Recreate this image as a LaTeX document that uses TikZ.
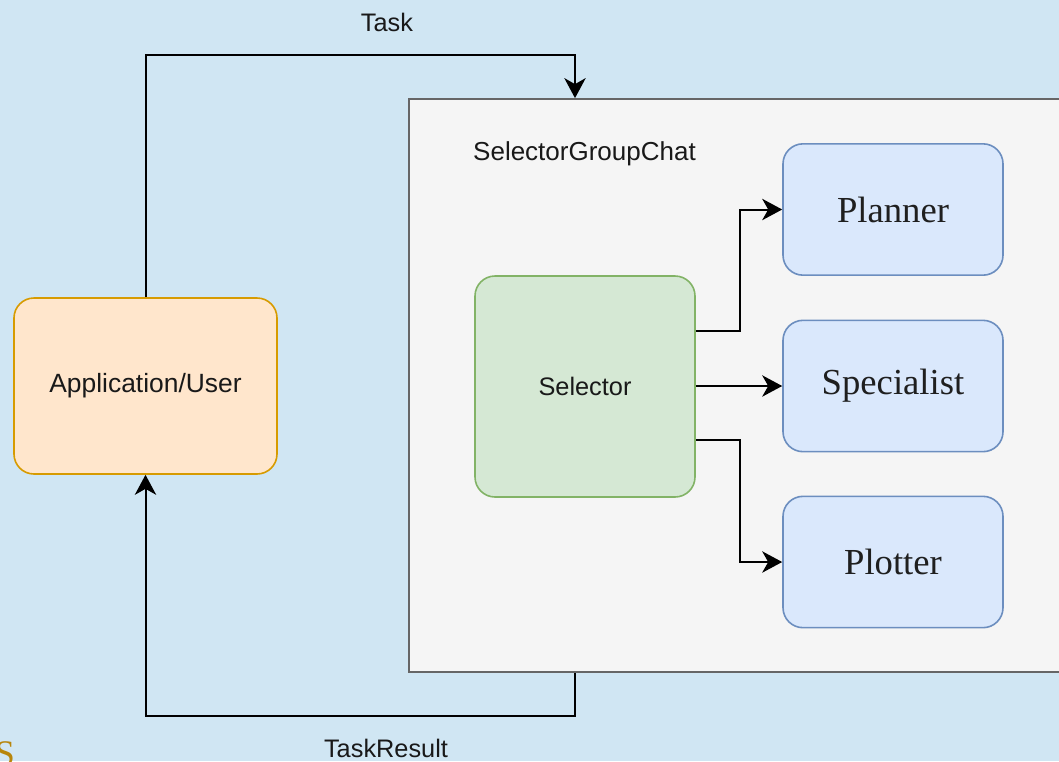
\documentclass[tikz,border=0pt]{standalone}
\usepackage{fontspec}
\newfontfamily\lsans{Liberation Sans}
\newfontfamily\lserif{Liberation Serif}
\usetikzlibrary{arrows.meta,calc}
\definecolor{bgblue}{HTML}{D0E6F3}
\definecolor{chatfill}{HTML}{F5F5F5}
\definecolor{chatline}{HTML}{666666}
\definecolor{appfill}{HTML}{FFE6CC}
\definecolor{appline}{HTML}{D79B00}
\definecolor{selfill}{HTML}{D5E8D4}
\definecolor{selline}{HTML}{82B366}
\definecolor{agfill}{HTML}{DAE8FC}
\definecolor{agline}{HTML}{6C8EBF}
\definecolor{gold}{HTML}{B8860B}
\tikzset{
  x=0.75pt, y=-0.75pt,
  sanslbl/.style={font=\lsans\fontsize{19pt}{22pt}\selectfont, text=black!90},
  serlbl/.style={font=\lserif\fontsize{27.5pt}{31pt}\selectfont, text=black!88},
  chatbox/.style={draw=chatline, fill=chatfill, line width=1.3pt},
  appbox/.style={draw=appline, fill=appfill, line width=1.2pt, rounded corners=15pt, sanslbl,
                 font=\lsans\fontsize{19.8pt}{22pt}\selectfont},
  selbox/.style={draw=selline, fill=selfill, line width=1.2pt, rounded corners=15pt, sanslbl},
  agbox/.style={draw=agline, fill=agfill, line width=1.2pt, rounded corners=15pt, serlbl,
                minimum width=165pt, minimum height=98.5pt},
  conn/.style={draw=black, line width=1.5pt, -{Stealth[length=15pt,width=16pt,inset=4.5pt]}},
}
\begin{document}
\begin{tikzpicture}
\useasboundingbox (0,0) rectangle (1059,761);
\clip (0,0) rectangle (1059,761);
\fill[bgblue] (0,0) rectangle (1059,761);

\node[chatbox, minimum width=525.75pt, minimum height=429.75pt, inner sep=0pt] (chat) at (759.5,385.5) {};
\node[sanslbl, anchor=west, font=\lsans\fontsize{19.5pt}{22pt}\selectfont] (chatlbl) at (468.5,154) {SelectorGroupChat};

\node[appbox, minimum width=197.25pt, minimum height=132pt] (app) at (145.5,386) {Application/User};
\node[selbox, minimum width=165pt, minimum height=165.75pt] (sel) at (585,386.5) {Selector};

\node[agbox] (planner) at (893,209.5) {Planner};
\node[agbox] (spec) at (893,386) {Specialist};
\node[agbox] (plot) at (893,562) {Plotter};

\coordinate (tasktop) at (575,55);
\coordinate (resbot) at (575,716);
\draw[conn] (app.north) |- (tasktop) -- (tasktop |- chat.north);
\draw[conn] (resbot |- chat.south) -- (resbot) -| (app.south);

\draw[conn] ([yshift=42pt]sel.east) -- ++(44,0) |- (planner.west);
\draw[conn] (sel.east |- spec.west) -- (spec.west);
\draw[conn] ([yshift=-40pt]sel.east) -- ++(44,0) |- (plot.west);

\node[sanslbl] (tasklbl) at (387,22) {Task};
\node[sanslbl] (reslbl) at (386,748) {TaskResult};
\node[text=gold, font=\lserif\fontsize{27pt}{30pt}\selectfont] (cutS) at (5,754) {S};
\end{tikzpicture}
\end{document}
